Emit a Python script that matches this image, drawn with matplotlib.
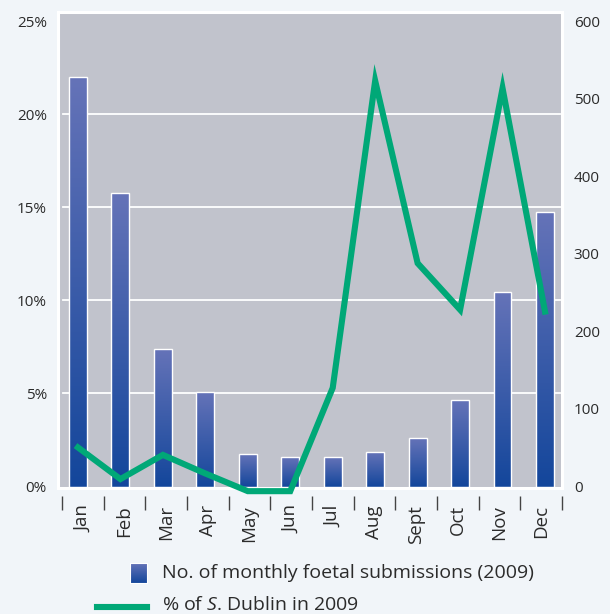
import numpy as np
import matplotlib
matplotlib.use("Agg")
import matplotlib.pyplot as plt
from matplotlib.colors import LinearSegmentedColormap
from matplotlib.lines import Line2D
from matplotlib.ticker import FuncFormatter

plt.rcParams['font.family'] = ['Open Sans', 'DejaVu Sans']
plt.rcParams['mathtext.fontset'] = 'custom'
plt.rcParams['mathtext.rm'] = 'Open Sans'
plt.rcParams['mathtext.it'] = 'Open Sans:italic'

# data
months = ["Jan", "Feb", "Mar", "Apr", "May", "Jun",
          "Jul", "Aug", "Sept", "Oct", "Nov", "Dec"]
submissions = [528, 378, 177, 122, 42, 38, 38, 44, 62, 112, 251, 354]
dublin_pct = [2.1, 0.4, 1.7, 0.7, -0.25, -0.25, 5.3, 21.8, 12.0, 9.5, 21.4, 9.4]
pct_ticks = [0, 5, 10, 15, 20, 25]
count_ticks = [0, 100, 200, 300, 400, 500, 600]

green = "#00a877"
bar_cmap = LinearSegmentedColormap.from_list("bars", ["#13469b", "#6573b8"])
text_col = "#2b2b2b"

W, H = 610, 614
fig = plt.figure(figsize=(W / 100, H / 100), dpi=100)
fig.patch.set_facecolor("#f1f5f9")

left, right, top, bottom = 58, 562, 12, 488
ax = fig.add_axes([left / W, 1 - bottom / H, (right - left) / W, (bottom - top) / H])
ax.set_facecolor("#c1c3cc")
ax2 = ax.twinx()

x = np.arange(len(months))
xlim = (-0.47, 11.40)
pct_lim = (-0.08, 25.5)
scale = 24  # 600 submissions <-> 25 %

# gradient bars (counts, right axis)
grad = np.linspace(0, 1, 256).reshape(-1, 1)
bars = ax.bar(x, submissions, width=0.42, color="none", edgecolor="white",
              linewidth=1, zorder=3)
for b in bars:
    x0, y0 = b.get_x(), b.get_y()
    im = ax.imshow(grad, cmap=bar_cmap, origin="lower", aspect="auto",
                   extent=[x0, x0 + b.get_width(), y0, y0 + b.get_height()],
                   zorder=2)
    im.set_clip_path(b)

ax.set_xlim(*xlim)
ax.set_ylim(pct_lim[0] * scale, pct_lim[1] * scale)

# white grid lines from the % ticks
for t in pct_ticks[1:-1]:
    ax.axhline(t * scale, xmin=0.01, xmax=0.996, color="white", lw=1.3, zorder=1)

ax.yaxis.tick_right()
ax.set_yticks(count_ticks)
ax.tick_params(axis="y", which="both", left=False, labelleft=False,
               right=True, labelright=True,
               length=0, pad=8.5, labelsize=11, labelcolor=text_col)

# x ticks: marks on the month boundaries, labels in between
edges = np.linspace(-0.377, 11.40, 13)
ax.set_xticks(edges, minor=True)
ax.set_xticks((edges[:-1] + edges[1:]) / 2)
ax.set_xticklabels(months)
ax.tick_params(axis="x", which="major", length=0, pad=6.5, labelsize=13.5,
               labelcolor=text_col, labelrotation=90)
ax.tick_params(axis="x", which="minor", length=10, width=1, color="#444444",
               direction="out")
ax.spines["bottom"].set_position(("outward", 6))
for s in ax.spines.values():
    s.set_color("none")

# % line (left axis)
ax2.set_ylim(*pct_lim)
ax2.set_yticks(pct_ticks)
ax2.yaxis.set_major_formatter(FuncFormatter(lambda v, p: "%d%%" % v))
ax2.tick_params(axis="y", which="both", left=True, labelleft=True,
                right=False, labelright=False,
                length=0, pad=8, labelsize=11, labelcolor=text_col)
for s in ax2.spines.values():
    s.set_color("white")
    s.set_linewidth(2.2)
ax2.plot(x, dublin_pct, color=green, lw=4.4, clip_on=False,
         solid_joinstyle="miter", zorder=5)

# legend, drawn by hand
lax = fig.add_axes([130 / W, 1 - 583 / H, 17 / W, 20 / H])
lax.imshow(grad, cmap=bar_cmap, origin="lower", aspect="auto")
lax.set_xticks([])
lax.set_yticks([])
for s in lax.spines.values():
    s.set_color("white")
    s.set_linewidth(0.8)
fig.text(162 / W, 1 - 573 / H, "No. of monthly foetal submissions (2009)",
         va="center", ha="left", fontsize=14, color=text_col)
fig.add_artist(Line2D([97 / W, 147 / W], [1 - 607 / H] * 2, color=green, lw=4.4,
                      transform=fig.transFigure))
fig.text(162 / W, 1 - 605 / H, r"% of $\mathit{S}$. Dublin in 2009",
         va="center", ha="left", fontsize=14, color=text_col)

fig.savefig("out.png", dpi=100, facecolor=fig.get_facecolor())
